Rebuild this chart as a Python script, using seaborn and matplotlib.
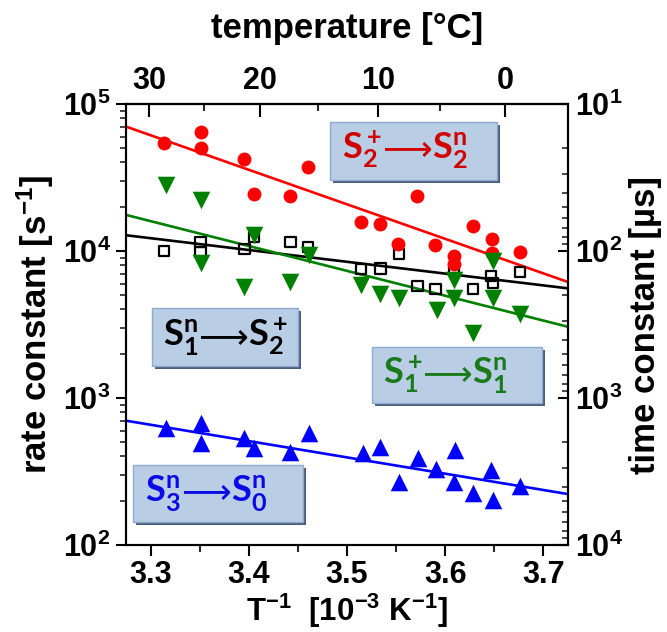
import numpy as np
import pandas as pd
import matplotlib
matplotlib.use("Agg")
import matplotlib.pyplot as plt
import seaborn as sns
from matplotlib.patches import Rectangle
from matplotlib.transforms import IdentityTransform
from matplotlib.ticker import LogLocator, FuncFormatter, NullFormatter, MultipleLocator, FixedLocator

# ---------------- data ----------------
# inverse temperature [10^-3 K^-1] and rate constants [s^-1]
red_x = [3.3135, 3.3509, 3.3509, 3.3956, 3.4051, 3.4424, 3.4600, 3.5147, 3.5333,
         3.5520, 3.5713, 3.5900, 3.6090, 3.6090, 3.6280, 3.6480, 3.6480, 3.6760]
red_k = [54000, 64000, 50000, 42300, 24500, 23700, 37400, 15800, 15200,
         11100, 23600, 10900, 9200, 8100, 14800, 12100, 9700, 9800]

black_x = [3.3135, 3.3509, 3.3509, 3.3956, 3.4051, 3.4424, 3.4600, 3.5143, 3.5340,
           3.5526, 3.5719, 3.5902, 3.6090, 3.6280, 3.6469, 3.6486, 3.6760]
black_k = [10040, 11560, 9800, 10280, 12500, 11460, 10700, 7510, 7620,
           9550, 5780, 5490, 7510, 5490, 6760, 6030, 7230]

green_x = [3.3153, 3.3509, 3.3509, 3.3956, 3.4051, 3.4424, 3.4610, 3.5143, 3.5340,
           3.5526, 3.5917, 3.6090, 3.6090, 3.6280, 3.6486, 3.6486, 3.6760]
green_k = [28100, 22200, 8260, 5710, 12850, 6180, 9390, 5880, 5100,
           4770, 3970, 6360, 4770, 2750, 8590, 4770, 3720]

blue_x = [3.3153, 3.3509, 3.3509, 3.3956, 3.4051, 3.4424, 3.4610, 3.5160, 3.5340,
          3.5526, 3.5719, 3.5910, 3.6103, 3.6085, 3.6280, 3.6466, 3.6482, 3.6764]
blue_k = [622, 673, 492, 532, 455, 431, 575, 425, 467,
          270, 389, 327, 443, 270, 225, 324, 202, 252]

# Arrhenius fit lines (values at the two ends of the x range)
fit_x = [3.275, 3.725]
red_fit = [70200, 6150]
black_fit = [12800, 5570]
green_fit = [17600, 3050]
blue_fit = [701, 222]

# transition labels: (initial state, final state)
labels = [(r"$\mathrm{S_2^+}$", r"$\mathrm{S_2^n}$"),
          (r"$\mathrm{S_1^n}$", r"$\mathrm{S_2^+}$"),
          (r"$\mathrm{S_1^+}$", r"$\mathrm{S_1^n}$"),
          (r"$\mathrm{S_3^n}$", r"$\mathrm{S_0^n}$")]
arrow = "\u27f6"

temp_ticks = [30, 20, 10, 0]
temp_minor = [25, 15, 5]

# ---------------- style ----------------
sns.set_theme(style="white")
plt.rcParams['font.family'] = ['Liberation Sans', 'DejaVu Sans']
plt.rcParams['font.weight'] = 'bold'
plt.rcParams['axes.labelweight'] = 'bold'
plt.rcParams['mathtext.fontset'] = 'custom'
plt.rcParams['mathtext.rm'] = 'Lato'
plt.rcParams['mathtext.it'] = 'Lato:italic'
plt.rcParams['mathtext.bf'] = 'Liberation Sans:bold'

W, H = 667, 632
fig = plt.figure(figsize=(W / 100, H / 100), dpi=100)
L, R, T, B = 126, 568, 104, 545
ax = fig.add_axes([L / W, 1 - B / H, (R - L) / W, (B - T) / H])

df_r = pd.DataFrame({"x": red_x, "k": red_k})
df_b = pd.DataFrame({"x": black_x, "k": black_k})
df_g = pd.DataFrame({"x": green_x, "k": green_k})
df_u = pd.DataFrame({"x": blue_x, "k": blue_k})

lw_line = 1.9
sns.lineplot(x=fit_x, y=black_fit, ax=ax, color="black", lw=lw_line, zorder=2)
sns.lineplot(x=fit_x, y=red_fit, ax=ax, color="#ff0000", lw=lw_line, zorder=2)
sns.lineplot(x=fit_x, y=green_fit, ax=ax, color="#008000", lw=lw_line, zorder=2)
sns.lineplot(x=fit_x, y=blue_fit, ax=ax, color="#0000ff", lw=lw_line, zorder=2)

sns.scatterplot(data=df_b, x="x", y="k", ax=ax, marker="s", s=55,
                facecolors="none", edgecolors="black", linewidth=1.6, zorder=3)
sns.scatterplot(data=df_r, x="x", y="k", ax=ax, marker="o", s=100,
                color="#ff0000", linewidth=0, zorder=4)
sns.scatterplot(data=df_g, x="x", y="k", ax=ax, marker="v", s=160,
                color="#008000", linewidth=0, zorder=5)
sns.scatterplot(data=df_u, x="x", y="k", ax=ax, marker="^", s=160,
                color="#0000ff", linewidth=0, zorder=5)

ax.set_yscale("log")
ax.set_xlim(3.275, 3.725)
ax.set_ylim(1e2, 1e5)

fmt = FuncFormatter(lambda v, p: r"$\mathbf{10^{%d}}$" % round(np.log10(v)))
ax.yaxis.set_major_locator(LogLocator(base=10, numticks=10))
ax.yaxis.set_minor_locator(LogLocator(base=10, subs=np.arange(2, 10), numticks=20))
ax.yaxis.set_major_formatter(fmt)
ax.yaxis.set_minor_formatter(NullFormatter())
ax.xaxis.set_major_locator(MultipleLocator(0.1))
ax.xaxis.set_minor_locator(MultipleLocator(0.05))

for s in ax.spines.values():
    s.set_color("black")
    s.set_linewidth(1.5)

ax.tick_params(axis="x", which="major", direction="out", length=8, width=1.5,
               bottom=True, top=False, labelsize=22, pad=3, colors="black")
ax.tick_params(axis="x", which="minor", direction="out", length=5, width=1.5,
               bottom=True, top=False)
ax.tick_params(axis="y", which="major", direction="out", length=7, width=1.5,
               left=True, right=False, labelsize=22, pad=4, colors="black")
ax.tick_params(axis="y", which="minor", direction="out", length=4, width=1.2,
               left=True, right=False)

ax.set_xlabel(r"T$\mathbf{^{-1}}$  [10$\mathbf{^{-3}}$ K$\mathbf{^{-1}}$]", fontsize=22.5,
              labelpad=1, color="black")
ax.set_ylabel(r"rate constant [s$\mathbf{^{-1}}$]", fontsize=25, labelpad=5, color="black")

# right axis: time constant [us]
ax2 = ax.twinx()
ax2.set_yscale("log")
ax2.set_ylim(1e4, 1e1)
ax2.yaxis.set_major_locator(LogLocator(base=10, numticks=10))
ax2.yaxis.set_minor_locator(LogLocator(base=10, subs=np.arange(2, 10), numticks=20))
ax2.yaxis.set_major_formatter(fmt)
ax2.yaxis.set_minor_formatter(NullFormatter())
ax2.tick_params(axis="y", which="major", direction="in", length=7, width=1.5,
                right=True, left=False, labelsize=22, pad=5, colors="black")
ax2.tick_params(axis="y", which="minor", direction="in", length=4, width=1.2,
                right=True, left=False)
ax2.set_ylabel("time constant [µs]", fontsize=25, labelpad=4, color="black")
for s in ax2.spines.values():
    s.set_color("black")
    s.set_linewidth(1.5)
ax2.grid(False)

# top axis: temperature in deg C
sec = ax.secondary_xaxis("top", functions=(lambda x: 1000.0 / x - 273.15,
                                           lambda c: 1000.0 / (c + 273.15)))
sec.xaxis.set_major_locator(FixedLocator(temp_ticks))
sec.xaxis.set_minor_locator(FixedLocator(temp_minor))
sec.tick_params(axis="x", which="major", direction="in", length=9, width=1.5,
                labelsize=22, pad=6, colors="black")
sec.tick_params(axis="x", which="minor", direction="in", length=5, width=1.5)
sec.set_xlabel("temperature [°C]", fontsize=25, labelpad=20, color="black")
sec.spines["top"].set_linewidth(1.5)

# labelled boxes (axes fraction coordinates)
boxes = [  # x0, y0, x1, y1, text x, text y, color
    (0.462, 0.828, 0.840, 0.959, 0.631, 0.893, "#d00000"),
    (0.059, 0.406, 0.389, 0.537, 0.224, 0.468, "black"),
    (0.557, 0.322, 0.941, 0.449, 0.722, 0.383, "#1a7a1a"),
    (0.016, 0.052, 0.400, 0.181, 0.181, 0.115, "#0a0ae6"),
]
fig.canvas.draw()
rend = fig.canvas.get_renderer()
for (x0, y0, x1, y1, tx, ty, c), (lft, rgt) in zip(boxes, labels):
    sh = Rectangle((x0 + 0.007, y0 - 0.007), x1 - x0, y1 - y0, transform=ax.transAxes,
                   facecolor="#4a5d7a", edgecolor="none", zorder=6)
    bx = Rectangle((x0, y0), x1 - x0, y1 - y0, transform=ax.transAxes,
                   facecolor="#b9cde5", edgecolor="#8eaad0", lw=1, zorder=7)
    ax.add_patch(sh)
    ax.add_patch(bx)
    kw = dict(color=c, ha="left", va="baseline", zorder=8,
              fontweight="normal", transform=IdentityTransform())
    t1 = ax.text(0, 0, lft, fontsize=26, **kw)
    t2 = ax.text(0, 0, arrow, family=["DejaVu Sans"], fontsize=25, **kw)
    t3 = ax.text(0, 0, rgt, fontsize=26, **kw)
    parts = [t1, t2, t3]
    widths = [t.get_window_extent(rend).width for t in parts]
    gap = 0.0
    total = sum(widths) + gap * 2
    cx, cy = ax.transAxes.transform((tx, ty))
    xpos = cx - total / 2
    for t, w in zip(parts, widths):
        t.set_position((xpos, cy - 8))
        xpos += w + gap

fig.savefig("out.png", dpi=100)
